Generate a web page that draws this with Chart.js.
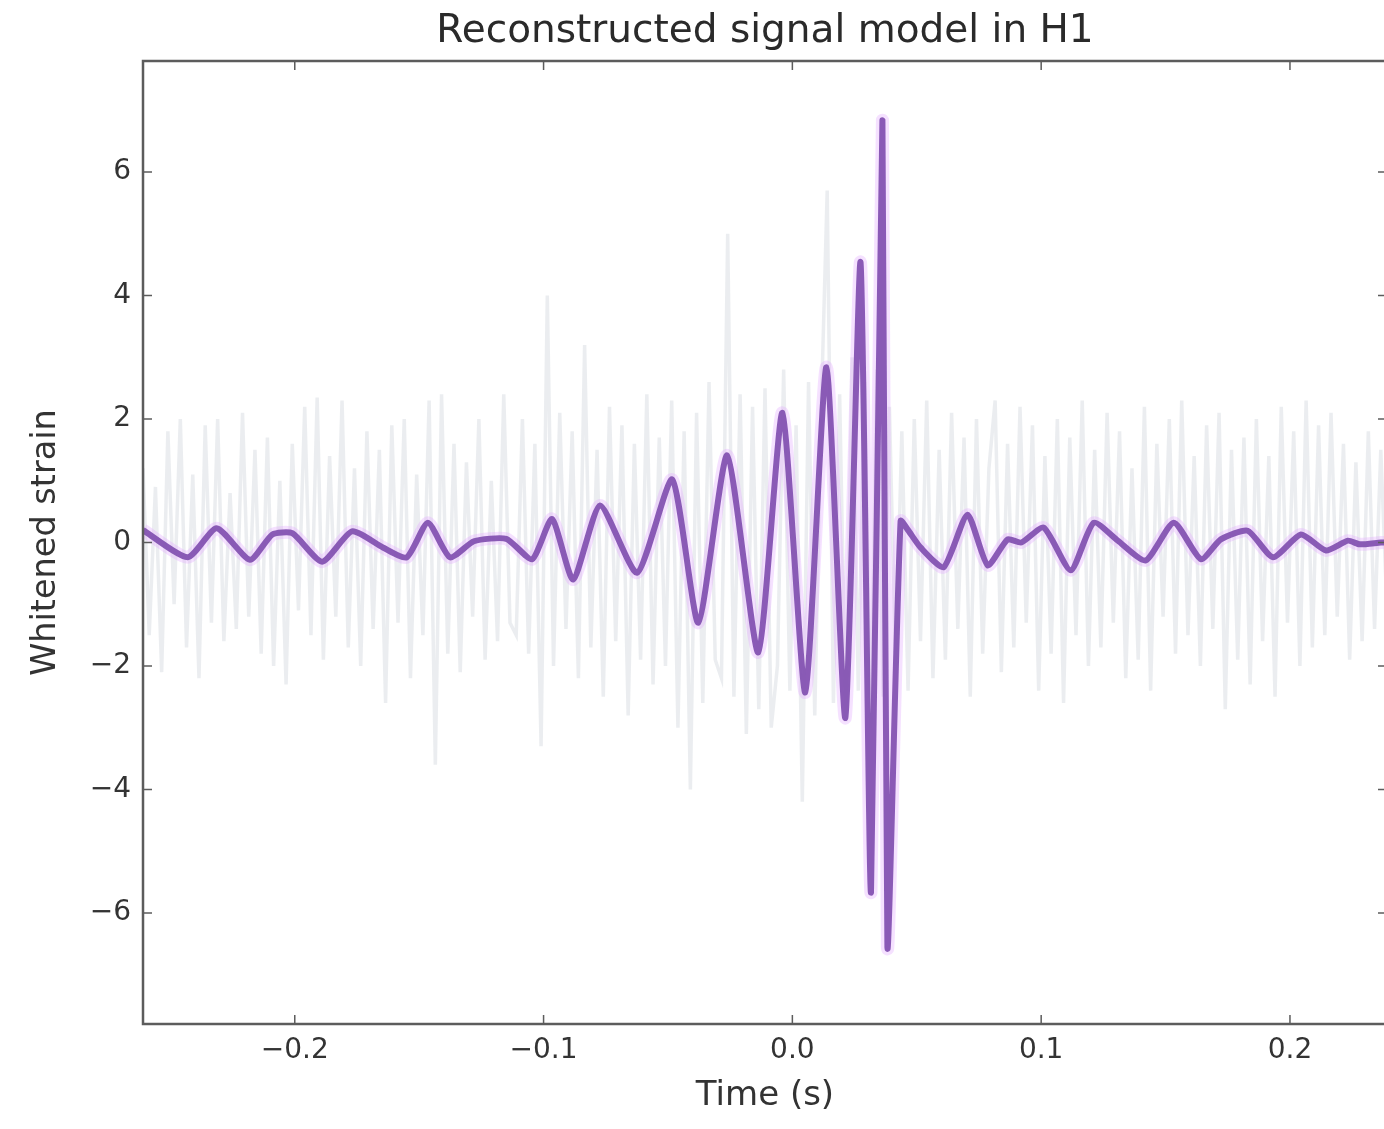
<!DOCTYPE html>
<html>
<head>
<meta charset="utf-8">
<title>Reconstructed signal model in H1</title>
<script src="https://cdn.jsdelivr.net/npm/chart.js@4.4.1/dist/chart.umd.min.js"></script>
<style>
  html, body { margin: 0; padding: 0; background: #fff; overflow: hidden; }
  #wrap { position: relative; width: 1392px; height: 1129px; }
</style>
</head>
<body>
<div id="wrap"><canvas id="strain-chart"></canvas></div>
<script>
// reconstructed waveform (time in s, whitened strain)
const modelTime = [
  -0.261, -0.243, -0.2314, -0.218, -0.209, -0.201, -0.189, -0.177, -0.1646, -0.155,
  -0.1465, -0.1376, -0.128, -0.115, -0.1046, -0.0966, -0.0881, -0.0773, -0.0624, -0.0483,
  -0.0378, -0.0262, -0.0137, -0.004, 0.0052, 0.0137, 0.0213, 0.0274, 0.0316, 0.0362,
  0.0382, 0.0435, 0.0465, 0.0515, 0.0608, 0.0704, 0.0785, 0.0865, 0.092, 0.101,
  0.1119, 0.1211, 0.1308, 0.142, 0.1533, 0.1642, 0.1722, 0.183, 0.1932, 0.2044,
  0.2145, 0.2233, 0.228, 0.2366, 0.239
];
const modelStrain = [
  0.2, -0.24, 0.23, -0.28, 0.13, 0.15, -0.31, 0.18, -0.08, -0.24,
  0.32, -0.24, 0.02, 0.06, -0.27, 0.38, -0.6, 0.6, -0.49, 1.02,
  -1.3, 1.41, -1.78, 2.1, -2.43, 2.84, -2.84, 4.54, -5.67, 6.84,
  -6.56, 0.35, 0.2, -0.08, -0.4, 0.45, -0.37, 0.05, 0.0, 0.24,
  -0.45, 0.32, 0.03, -0.29, 0.32, -0.27, 0.05, 0.19, -0.24, 0.13,
  -0.13, 0.03, -0.03, 0.0, 0.0
];

// whitened detector data, sampled every dataStep seconds from dataStart
const dataStart = -0.261;
const dataStep = 0.0025;
const dataStrain = [
  1.2, -1.5, 0.9, -2.1, 1.8, -1.0, 2.0, -1.7, 1.1, -2.2,
  1.9, -1.3, 2.0, -1.6, 0.8, -1.4, 2.1, -1.2, 1.5, -1.8,
  1.7, -2.0, 1.0, -2.3, 1.6, -1.1, 2.2, -1.5, 2.35, -1.9,
  1.4, -1.2, 2.3, -1.7, 1.2, -2.0, 1.8, -1.4, 1.5, -2.6,
  1.9, -1.3, 2.0, -2.2, 1.1, -1.5, 2.3, -3.6, 2.4, -1.8,
  1.6, -2.1, 1.3, -1.2, 2.0, -1.9, 1.0, -1.6, 2.4, -1.3,
  -1.5, 2.0, -1.8, 1.6, -3.3, 4.0, -2.0, 2.1, -1.4, 1.8,
  -2.2, 3.2, -1.7, 1.5, -2.5, 2.2, -1.6, 1.9, -2.8, 1.6,
  -1.9, 2.4, -2.3, 1.7, -2.0, 2.3, -3.0, 1.8, -4.0, 2.1,
  -2.6, 2.6, -1.9, -2.2, 5.0, -2.5, 2.4, -3.1, 2.2, -2.7,
  2.5, -3.0, -2.0, 2.8, -2.4, 1.9, -4.2, 2.6, -2.8, 2.0,
  5.7, -2.6, 2.4, -2.9, 3.0, -2.4, 2.6, -3.0, 2.8, -2.5,
  2.2, -2.0, 1.8, -2.4, 2.0, -1.6, 2.3, -2.2, 1.5, -1.9,
  2.1, -1.4, 1.7, -2.5, 2.0, -1.8, 1.2, 2.3, -2.1, 1.6,
  -1.7, 2.2, -1.3, 1.9, -2.4, 1.4, -1.8, 2.0, -2.6, 1.7,
  -1.5, 2.3, -2.0, 1.5, -1.7, 2.1, -1.3, 1.8, -2.2, 1.2,
  -1.9, 2.2, -2.4, 1.6, -1.2, 2.0, -1.8, 2.3, -1.5, 1.4,
  -2.0, 1.9, -1.4, 2.1, -2.7, 1.5, -1.9, 1.7, -2.3, 2.0,
  -1.6, 1.4, -2.5, 2.2, -1.3, 1.8, -2.0, 2.3, -1.7, 1.9,
  -1.5, 2.1, -1.2, 1.6, -1.9, 1.3, -1.6, 1.8, -1.4, 1.5,
  -1.1
];

const xTicks = [-0.2, -0.1, 0.0, 0.1, 0.2];
const yTicks = [-6, -4, -2, 0, 2, 4, 6];

const FONT = 'DejaVu Sans';
const INK = '#333333';
const SPINE = '#5c5c5c';

const modelPoints = modelTime.map((t, i) => ({ x: t, y: modelStrain[i] }));
const dataPoints = dataStrain.map((v, i) => ({ x: dataStart + i * dataStep, y: v }));

// matplotlib style minus sign
const fmt = (v, digits) => (v < 0 ? '\u2212' : '') + Math.abs(v).toFixed(digits);

// box around the axes with inward ticks on all four sides
const framePlugin = {
  id: 'frame',
  afterDatasetsDraw(chart) {
    const { ctx, chartArea: a, scales: { x, y } } = chart;
    const len = 9;
    ctx.save();
    ctx.strokeStyle = SPINE;
    ctx.lineWidth = 1.5;
    ctx.beginPath();
    x.ticks.forEach(t => {
      const px = x.getPixelForValue(t.value);
      ctx.moveTo(px, a.top); ctx.lineTo(px, a.top + len);
      ctx.moveTo(px, a.bottom); ctx.lineTo(px, a.bottom - len);
    });
    y.ticks.forEach(t => {
      const py = y.getPixelForValue(t.value);
      ctx.moveTo(a.left, py); ctx.lineTo(a.left + len, py);
      ctx.moveTo(a.right, py); ctx.lineTo(a.right - len, py);
    });
    ctx.stroke();
    ctx.lineWidth = 2.5;
    ctx.strokeRect(a.left, a.top, a.right - a.left, a.bottom - a.top);
    ctx.restore();
  }
};

new Chart(document.getElementById('strain-chart'), {
  type: 'line',
  data: {
    datasets: [
      {
        label: 'model',
        data: modelPoints,
        borderColor: 'rgba(126, 76, 174, 0.9)',
        borderWidth: 6,
        tension: 0.2,
        pointRadius: 0,
        order: 1
      },
      {
        label: 'model band',
        data: modelPoints,
        borderColor: 'rgba(225, 170, 255, 0.35)',
        borderWidth: 13,
        tension: 0.2,
        pointRadius: 0,
        order: 2
      },
      {
        label: 'whitened data',
        data: dataPoints,
        borderColor: 'rgba(192, 198, 208, 0.32)',
        borderWidth: 3.5,
        pointRadius: 0,
        tension: 0,
        order: 3
      }
    ]
  },
  options: {
    responsive: true,
    maintainAspectRatio: false,
    animation: false,
    events: [],
    layout: { padding: { left: 0, top: 0, right: 5, bottom: 0 } },
    plugins: {
      legend: { display: false },
      tooltip: { enabled: false },
      title: {
        display: true,
        fullSize: false,
        text: 'Reconstructed signal model in H1',
        color: '#2a2a2a',
        font: { family: FONT, size: 39, weight: 'normal' },
        padding: { top: 8, bottom: 6.2 }
      }
    },
    scales: {
      x: {
        type: 'linear',
        min: -0.261,
        max: 0.239,
        grid: { display: false, drawTicks: false },
        border: { display: false },
        afterBuildTicks: scale => { scale.ticks = xTicks.map(v => ({ value: v })); },
        afterFit: scale => { scale.height = 105; },
        ticks: {
          padding: 10,
          color: INK,
          font: { family: FONT, size: 28 },
          callback: v => fmt(v, 1)
        },
        title: {
          display: true,
          text: 'Time (s)',
          color: INK,
          font: { family: FONT, size: 34 },
          padding: { top: 0, bottom: 12.5 }
        }
      },
      y: {
        type: 'linear',
        min: -7.8,
        max: 7.8,
        grid: { display: false, drawTicks: false },
        border: { display: false },
        afterBuildTicks: scale => { scale.ticks = yTicks.map(v => ({ value: v })); },
        afterFit: scale => { scale.width = 143; },
        ticks: {
          padding: 12,
          color: INK,
          font: { family: FONT, size: 28 },
          callback: v => fmt(v, 0)
        },
        title: {
          display: true,
          text: 'Whitened strain',
          color: INK,
          font: { family: FONT, size: 33.5 },
          padding: { top: 26, bottom: 0 }
        }
      }
    }
  },
  plugins: [framePlugin]
});
</script>
</body>
</html>
